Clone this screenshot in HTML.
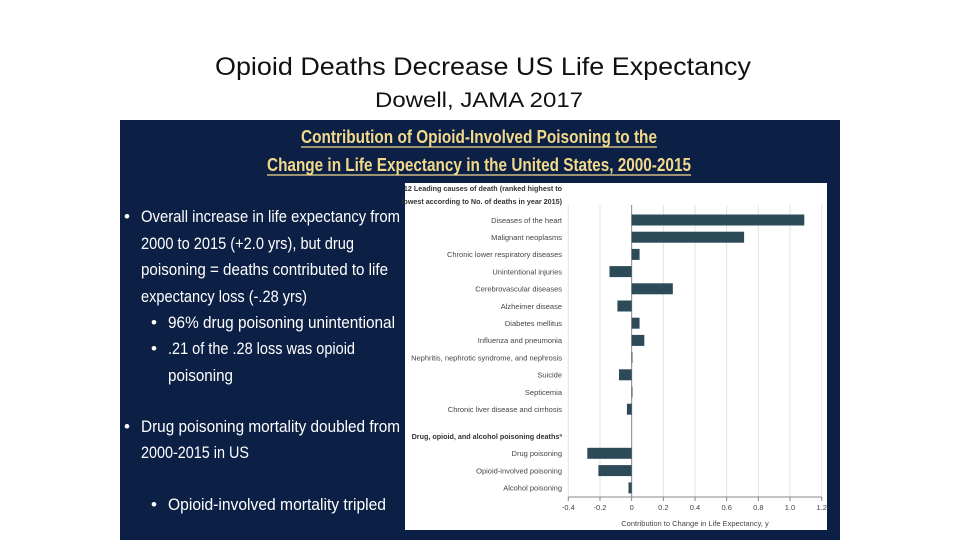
<!DOCTYPE html>
<html><head><meta charset="utf-8"><style>
html,body{margin:0;padding:0;background:#fff;}
svg{display:block;font-family:"Liberation Sans",sans-serif;}
</style></head><body>
<svg width="960" height="540" viewBox="0 0 960 540" xmlns="http://www.w3.org/2000/svg">
<rect x="0" y="0" width="960" height="540" fill="#fff"/>
<text x="483" y="75" font-size="25" text-anchor="middle" fill="#111" textLength="536" lengthAdjust="spacingAndGlyphs">Opioid Deaths Decrease US Life Expectancy</text>
<text x="479" y="107" font-size="21" text-anchor="middle" fill="#111" textLength="208" lengthAdjust="spacingAndGlyphs">Dowell, JAMA 2017</text>
<rect x="120" y="120" width="720" height="420" fill="#0c1f44"/>
<g fill="#f2d98a" font-weight="bold" font-size="18" text-anchor="middle">
<text x="479" y="143" textLength="356" lengthAdjust="spacingAndGlyphs">Contribution of Opioid-Involved Poisoning to the</text>
<text x="479" y="171" textLength="424" lengthAdjust="spacingAndGlyphs">Change in Life Expectancy in the United States, 2000-2015</text>
<line x1="301" y1="147" x2="657" y2="147" stroke="#f2d98a" stroke-width="1.2"/>
<line x1="267" y1="175" x2="691" y2="175" stroke="#f2d98a" stroke-width="1.2"/>
</g>
<g fill="#fff" font-size="17">
<text x="124" y="222">•</text>
<text x="141" y="222" textLength="259" lengthAdjust="spacingAndGlyphs">Overall increase in life expectancy from</text>
<text x="141" y="249" textLength="213" lengthAdjust="spacingAndGlyphs">2000 to 2015 (+2.0 yrs), but drug</text>
<text x="141" y="275" textLength="247" lengthAdjust="spacingAndGlyphs">poisoning = deaths contributed to life</text>
<text x="141" y="302" textLength="166" lengthAdjust="spacingAndGlyphs">expectancy loss (-.28 yrs)</text>
<text x="151" y="328">•</text>
<text x="168" y="328" textLength="227" lengthAdjust="spacingAndGlyphs">96% drug poisoning  unintentional</text>
<text x="151" y="354">•</text>
<text x="168" y="354" textLength="187" lengthAdjust="spacingAndGlyphs">.21 of the .28 loss was opioid</text>
<text x="168" y="381" textLength="65" lengthAdjust="spacingAndGlyphs">poisoning</text>
<text x="124" y="432">•</text>
<text x="141" y="432" textLength="259" lengthAdjust="spacingAndGlyphs">Drug poisoning mortality doubled from</text>
<text x="141" y="458" textLength="108" lengthAdjust="spacingAndGlyphs">2000-2015 in US</text>
<text x="151" y="510">•</text>
<text x="168" y="510" textLength="218" lengthAdjust="spacingAndGlyphs">Opioid-involved mortality tripled</text>
</g>
<rect x="405" y="183" width="422" height="347" fill="#fff"/>
<g id="chart"></g>
</svg>
<script>
const categories = ["Diseases of the heart","Malignant neoplasms","Chronic lower respiratory diseases","Unintentional injuries","Cerebrovascular diseases","Alzheimer disease","Diabetes mellitus","Influenza and pneumonia","Nephritis, nephrotic syndrome, and nephrosis","Suicide","Septicemia","Chronic liver disease and cirrhosis","Drug poisoning","Opioid-involved poisoning","Alcohol poisoning"];
const values = [1.09,0.71,0.05,-0.14,0.26,-0.09,0.05,0.08,0.005,-0.08,0.002,-0.03,-0.28,-0.21,-0.02];
const groups = [0,0,0,0,0,0,0,0,0,0,0,0,1,1,1];
const tickValues = [-0.4,-0.2,0,0.2,0.4,0.6,0.8,1.0,1.2];
const tickLabels = ["-0.4","-0.2","0","0.2","0.4","0.6","0.8","1.0","1.2"];

const NS="http://www.w3.org/2000/svg";
const g=document.getElementById('chart');
const x0=568.3, x1=821.7, vmin=-0.4, vmax=1.2;
const xs=v=>x0+(v-vmin)/(vmax-vmin)*(x1-x0);
const rowY=i=>groups[i]?453.3+(i-12)*17.3:220+i*17.2;
function mk(tag,attrs,parent){const e=document.createElementNS(NS,tag);for(const k in attrs)e.setAttribute(k,attrs[k]);(parent||g).appendChild(e);return e;}
tickValues.forEach((t,i)=>{
  const gl=mk('line',{x1:xs(t),x2:xs(t),y1:205,y2:497,stroke:t===0?'#888':'#e2e2e2','stroke-width':1});
  
  
  const tk=mk('line',{x1:xs(t),x2:xs(t),y1:497,y2:501,stroke:'#888'});
  
  
  const tl=mk('text',{x:xs(t),y:510,'font-size':7.5,'text-anchor':'middle',fill:'#444'});
  tl.textContent=tickLabels[i];
  
  
});
const ax=mk('line',{x1:xs(vmin),x2:xs(vmax),y1:497,y2:497,stroke:'#888'});


const at=mk('text',{x:xs(0.4),y:526,'font-size':7.5,'text-anchor':'middle',fill:'#444'});
at.textContent='Contribution to Change in Life Expectancy, y';


const h1=mk('text',{x:562,y:191,'font-size':7.2,'text-anchor':'end','font-weight':'bold',fill:'#333'});
h1.textContent='12 Leading causes of death (ranked highest to';


const h2=mk('text',{x:562,y:204,'font-size':7.2,'text-anchor':'end','font-weight':'bold',fill:'#333'});
h2.textContent='lowest according to No. of deaths in year 2015)';


const h3=mk('text',{x:562,y:439,'font-size':7.2,'text-anchor':'end','font-weight':'bold',fill:'#333'});
h3.textContent='Drug, opioid, and alcohol poisoning deaths\u00aa';


categories.forEach((c,i)=>{
  const y=rowY(i), v=values[i];
  const lb=mk('text',{x:562,y:y+2.8,'font-size':7.5,'text-anchor':'end',fill:'#444'});
  lb.textContent=c;
  
  
  const a=xs(Math.min(0,v)), b=xs(Math.max(0,v));
  const r=mk('rect',{x:a,y:y-5.5,width:Math.max(b-a,0.8),height:11,fill:'#2c4a57'});
  
  
});
</script>
</body></html>
